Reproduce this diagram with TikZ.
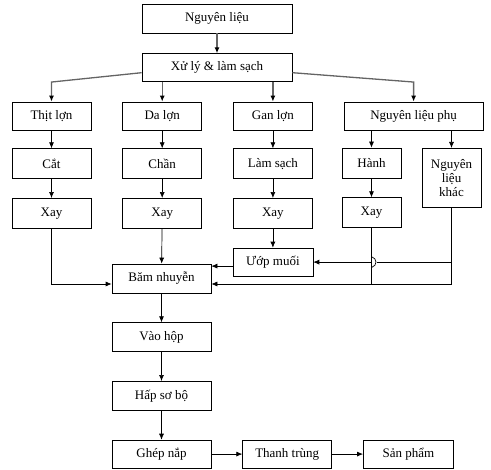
\documentclass[tikz,border=0pt]{standalone}
\usepackage{fontspec}
\setmainfont{Liberation Serif}
\usetikzlibrary{positioning,arrows.meta}
\definecolor{flowgray}{RGB}{100,100,100}

\begin{document}
\begin{tikzpicture}[x=1pt,y=-1pt,
    box/.style={draw, line width=0.7pt, minimum width=79pt, minimum height=28pt, inner sep=1pt, align=center, font=\fontsize{13}{14}\selectfont},
    arr/.style={-{Latex[length=6pt,width=5pt]}, line width=0.7pt},
    garr/.style={-{Latex[length=6pt,width=5pt,color=black]}, flowgray, line width=1.3pt},
    plain/.style={line width=0.7pt}]
    \useasboundingbox (0,0) rectangle (491,470);

    \node[box, minimum width=150pt, minimum height=29pt] (raw) at (217,18.5) {Nguyên liệu};
    \node[box, minimum width=150pt, below=20pt of raw] (clean) {Xử lý \& làm sạch};

    \node[box] (thit) at (51.5,116) {Thịt lợn};
    \node[box, right=31pt of thit] (da) {Da lợn};
    \node[box, right=31pt of da] (gan) {Gan lợn};
    \node[box, minimum width=139pt, right=31pt of gan] (phu) {Nguyên liệu phụ};

    \node[box, minimum height=30pt, below=18pt of thit] (cat) {Cắt};
    \node[box, minimum height=30pt, below=18pt of da] (chan) {Chần};
    \node[box, minimum height=30pt, below=18pt of gan] (lamsach) {Làm sạch};
    \node[box, minimum width=59pt, minimum height=30pt] (hanh) at (371.5,163) {Hành};
    \node[box, minimum width=59pt, minimum height=59pt, anchor=north] (khac) at (451.5,148) {Nguyên\\liệu\\khác};

    \node[box, minimum height=30pt, below=19pt of cat] (xaythit) {Xay};
    \node[box, minimum height=30pt, below=19pt of chan] (xayda) {Xay};
    \node[box, minimum height=30pt, below=19pt of lamsach] (xaygan) {Xay};
    \node[box, minimum width=59pt, minimum height=30pt, below=19pt of hanh] (xayhanh) {Xay};

    \node[box, minimum width=80pt, below=19pt of xaygan] (uop) {Ướp muối};
    \node[box, minimum width=99pt, minimum height=29pt] (bam) at (161.5,278.5) {Băm nhuyễn};
    \node[box, minimum width=99pt, minimum height=29pt, below=29pt of bam] (vao) {Vào hộp};
    \node[box, minimum width=99pt, minimum height=29pt, below=29pt of vao] (hap) {Hấp sơ bộ};
    \node[box, minimum width=99pt, below=29pt of hap] (ghep) {Ghép nắp};
    \node[box, minimum width=89pt, right=31pt of ghep] (thanh) {Thanh trùng};
    \node[box, minimum width=90pt, right=31pt of thanh] (sanpham) {Sản phẩm};

    % so che ban dau
    \draw[garr] (raw) -- (clean);
    \draw[garr] ([yshift=-5pt]clean.west) -- (thit.north |- clean.south) -- (thit.north);
    \draw[garr] (clean.south -| da.north) -- (da.north);
    \draw[garr] (clean.south -| gan.north) -- (gan.north);
    \draw[garr] ([yshift=-5pt]clean.east) -- (phu.north |- clean.south) -- (phu.north);

    \draw[arr] (thit) -- (cat);
    \draw[arr] (da) -- (chan);
    \draw[arr] (gan) -- (lamsach);
    \draw[arr] (phu.south -| hanh.north) -- (hanh.north);
    \draw[arr] (phu.south -| khac.north) -- (khac.north);

    \draw[arr] (cat) -- (xaythit);
    \draw[arr] (chan) -- (xayda);
    \draw[arr] (lamsach) -- (xaygan);
    \draw[arr] (hanh) -- (xayhanh);
    \draw[arr] (xaygan) -- (uop);

    % vao bam nhuyen
    \coordinate (joinl) at ([yshift=-5.5pt]bam.west);
    \coordinate (joinr) at ([yshift=-5.5pt]bam.east);
    \coordinate (hop) at (xayhanh.south |- uop.east);
    \draw[arr] (xaythit.south) |- (joinl);
    \draw[arr] (xayda) -- (bam);
    \draw[arr] ([yshift=-4pt]uop.west) -- ([yshift=-4pt]uop.west -| bam.east);
    \draw[arr] (khac.south) |- (joinr);
    \draw[plain] (xayhanh.south) -- (xayhanh.south |- joinr);
    \draw[plain] (khac.south |- uop.east) -- ([xshift=5pt]hop);
    \draw[plain] ([yshift=5.5pt]hop) .. controls +(6pt,-2pt) and +(6pt,2pt) .. ([yshift=-5.5pt]hop);
    \draw[arr] (hop) -- (uop.east);

    \draw[arr] (bam) -- (vao);
    \draw[arr] (vao) -- (hap);
    \draw[arr] (hap) -- (ghep);
    \draw[arr] (ghep) -- (thanh);
    \draw[arr] (thanh) -- (sanpham);
\end{tikzpicture}
\end{document}
